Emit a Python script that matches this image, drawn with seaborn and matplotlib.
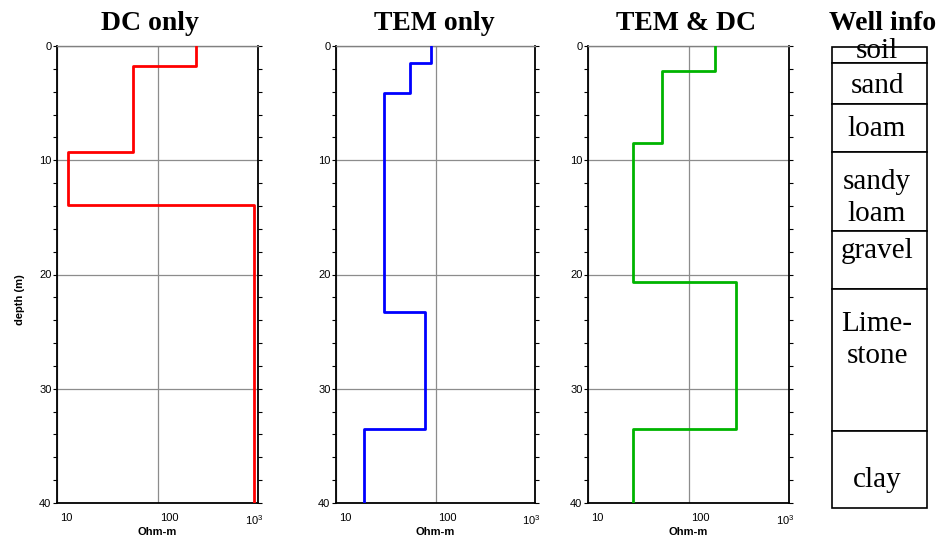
import numpy as np
import pandas as pd
import matplotlib
matplotlib.use("Agg")
import matplotlib.pyplot as plt
import seaborn as sns
from matplotlib.patches import Rectangle
from matplotlib.transforms import ScaledTranslation
from matplotlib.ticker import FixedLocator, FixedFormatter, MultipleLocator, NullFormatter

# ---- data ----
panel_titles = ["DC only", "TEM only", "TEM & DC"]
colors = ["#ff0000", "#0000ff", "#00b400"]

dc_rho = [241, 57, 12.9, 912]
dc_bounds = [0, 1.75, 9.3, 13.9, 40]

tem_rho = [91, 55.5, 30.6, 78, 19.1]
tem_bounds = [0, 1.45, 4.15, 23.3, 33.5, 40]

joint_rho = [184, 54, 28.3, 297, 28.3]
joint_bounds = [0, 2.2, 8.5, 20.65, 33.5, 40]

well_labels = ["soil", "sand", "loam", "sandy\nloam", "gravel", "Lime-\nstone", "clay"]
well_bounds = [0, 1.4, 5.0, 9.2, 16.1, 21.2, 33.7, 40.4]

x_ticks = [10, 100, 1000]
x_ticklabels = ["10", "100", r"$\mathregular{10^3}$"]
y_ticks = [0, 10, 20, 30, 40]

models = [(dc_rho, dc_bounds), (tem_rho, tem_bounds), (joint_rho, joint_bounds)]

sns.set_theme(style="white")
plt.rcParams["font.family"] = ["Liberation Sans", "DejaVu Sans"]
plt.rcParams["text.color"] = "black"
plt.rcParams["axes.labelcolor"] = "black"
plt.rcParams["xtick.color"] = "black"
plt.rcParams["ytick.color"] = "black"

fig = plt.figure(figsize=(9.41, 5.38), dpi=100)
W, H = 941, 538

def ax_rect(x0, x1, ytop, ybot):
    return [x0 / W, (H - ybot) / H, (x1 - x0) / W, (ybot - ytop) / H]

panel_px = [(57, 258), (336, 535), (588, 789)]
title_x = [150, 434, 686]

for (x0, x1), (rho, bounds), col, title, tx in zip(panel_px, models, colors, panel_titles, title_x):
    ax = fig.add_axes(ax_rect(x0, x1, 46, 503))
    xs, ys = [], []
    for i, r in enumerate(rho):
        xs += [r, r]
        ys += [bounds[i], bounds[i + 1]]
    df = pd.DataFrame({"rho": xs, "depth": ys})
    sns.lineplot(data=df, x="rho", y="depth", sort=False, estimator=None,
                 color=col, linewidth=2.0, ax=ax, zorder=3)
    ax.set_xscale("log")
    ax.set_xlim(10, 1000)
    ax.set_ylim(40, 0)
    ax.xaxis.set_major_locator(FixedLocator(x_ticks))
    ax.xaxis.set_major_formatter(FixedFormatter(x_ticklabels))
    ax.xaxis.set_minor_locator(FixedLocator([]))
    ax.yaxis.set_major_locator(FixedLocator(y_ticks))
    ax.yaxis.set_minor_locator(MultipleLocator(2))
    ax.yaxis.set_minor_formatter(NullFormatter())
    ax.grid(True, which="major", color="#8c8c8c", linewidth=0.9)
    ax.set_axisbelow(True)
    ax.tick_params(axis="y", which="both", left=True, right=True, direction="out",
                   length=3, width=0.8, colors="black", labelsize=8, pad=1)
    ax.tick_params(axis="x", which="both", bottom=False, labelsize=8, pad=1)
    labs = ax.get_xticklabels()
    for k, lab in enumerate(labs):
        if k < len(labs) - 1:
            lab.set_horizontalalignment("left")
            lab.set_transform(lab.get_transform() + ScaledTranslation(2 / 72, 0, fig.dpi_scale_trans))
        else:
            lab.set_horizontalalignment("right")
            lab.set_transform(lab.get_transform() + ScaledTranslation(5 / 100, 0, fig.dpi_scale_trans))
    for s in ["left", "right", "bottom"]:
        ax.spines[s].set_color("black")
        ax.spines[s].set_linewidth(1.3)
    ax.spines["top"].set_color("#808080")
    ax.spines["top"].set_linewidth(1.0)
    ax.set_xlabel("Ohm-m", fontsize=8, fontweight="bold", labelpad=0)
    ax.set_ylabel("")
    fig.text(tx / W, 1 - 30 / H, title, ha="center", va="baseline",
             fontsize=20, fontweight="bold", family="Liberation Serif")

fig.text(20 / W, 1 - 300 / H, "depth (m)", rotation=90, ha="center", va="center",
         fontsize=8, fontweight="bold")

# well info column
wax = fig.add_axes(ax_rect(832, 927, 46.7, 508))
wax.set_xlim(0, 1)
wax.set_ylim(well_bounds[-1], 0)
wax.axis("off")
for i, lab in enumerate(well_labels):
    top, bot = well_bounds[i], well_bounds[i + 1]
    wax.add_patch(Rectangle((0, top), 1, bot - top, facecolor="white",
                            edgecolor="black", linewidth=1.2, clip_on=False))
fig.text(883 / W, 1 - 30 / H, "Well info", ha="center", va="baseline",
         fontsize=20, fontweight="bold", family="Liberation Serif")
label_y = [51, 86, 129, 198, 251, 340, 480]
for lab, yp in zip(well_labels, label_y):
    fig.text(877 / W, 1 - yp / H, lab, ha="center", va="center", fontsize=21,
             family="Liberation Serif", linespacing=1.3)

fig.savefig("out.png", dpi=100)
